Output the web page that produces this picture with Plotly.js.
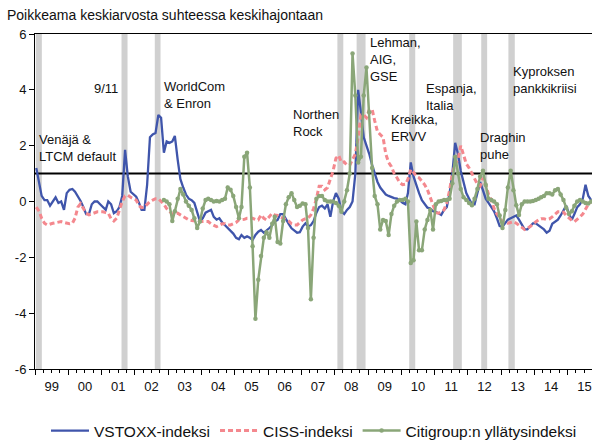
<!DOCTYPE html>
<html>
<head>
<meta charset="utf-8">
<script src="https://cdn.plot.ly/plotly-3.0.1.min.js"></script>
<style>html,body{margin:0;padding:0;background:#fff;}#chart{width:592px;height:442px;}</style>
</head>
<body>
<div id="chart"></div>
<script>
// ---- data (monthly, Jan 1999 .. Sep 2015) ----
const startYear = 1999;
const vstoxx = [
 1.2, 0.6, 0.2, 0.05, 0.05, -0.15, 0.0, 0.15, -0.05, 0.0,
 -0.3, 0.3, 0.42, 0.45, 0.35, 0.2, 0.02, -0.2, -0.45, -0.45,
 -0.1, 0.0, 0.0, -0.1, -0.2, -0.3, 0.0, -0.1, -0.42, -0.35,
 -0.2, 0.2, 1.85, 0.9, 0.35, 0.25, 0.17, -0.05, -0.3, -0.3,
 0.6, 2.3, 2.4, 2.45, 3.1, 3.0, 1.75, 2.15, 2.1, 2.15,
 2.35, 1.5, 0.8, 0.5, 0.25, 0.1, 0.05, -0.05, -0.4, -0.7,
 -0.6, -0.4, -0.35, -0.3, -0.55, -0.65, -0.6, -0.75, -0.85, -0.95,
 -1.05, -1.15, -1.3, -1.35, -1.2, -1.3, -1.25, -1.3, -1.38, -1.2,
 -1.08, -1.02, -1.12, -1.05, -0.95, -0.85, -0.72, -0.66, -0.45, -0.45,
 -0.65, -0.8, -0.96, -1.05, -1.12, -1.1, -0.9, -0.78, -0.9, -0.85,
 -0.7, -0.4, -0.2, -0.15, -0.25, -0.1, -0.55, 0.0, 0.3, 0.1,
 -0.35, -0.45, -0.3, -0.2, 0.0, 1.0, 4.0, 3.2, 2.3, 2.0,
 1.7, 1.3, 1.0, 0.7, 0.5, 0.35, 0.25, 0.2, 0.15, 0.12,
 0.1, 0.05, -0.05, -0.1, 0.3, 1.4, 0.9, 0.55, 0.3, 0.05,
 -0.1, -0.22, -0.25, -0.35, -0.37, -0.42, -0.48, -0.3, -0.2, 0.3,
 1.0, 2.1, 1.7, 1.1, 0.65, 0.3, 0.1, -0.1, -0.1, 0.3,
 0.7, 0.4, 0.1, -0.05, -0.2, -0.35, -0.6, -0.88, -0.9, -0.75,
 -0.65, -0.6, -0.55, -0.5, -0.65, -0.85, -1.0, -1.0, -0.88, -0.78,
 -0.78, -0.85, -0.92, -1.0, -1.12, -1.05, -0.8, -0.72, -0.65, -0.5,
 -0.3, -0.15, -0.45, -0.65, -0.45, -0.2, -0.1, 0.1, 0.6, 0.2, 0.05
];
const ciss = [
 -0.2, -0.35, -0.6, -0.78, -0.84, -0.8, -0.78, -0.76, -0.75, -0.72,
 -0.75, -0.78, -0.8, -0.78, -0.6, -0.2, -0.08, -0.25, -0.42, -0.48,
 -0.44, -0.4, -0.37, -0.37, -0.37, -0.4, -0.42, -0.62, -0.7, -0.6,
 -0.3, 0.0, 0.2, 0.23, 0.15, 0.1, 0.05, -0.15, -0.22, -0.2,
 -0.1, 0.0, 0.05, 0.1, 0.1, 0.0, -0.1, -0.25, -0.35, -0.45,
 -0.45, -0.42, -0.48, -0.54, -0.6, -0.66, -0.68, -0.7, -0.72, -0.72,
 -0.72, -0.72, -0.72, -0.8, -0.85, -0.9, -0.85, -0.8, -0.8, -0.84,
 -0.84, -0.8, -0.75, -0.66, -0.66, -0.64, -0.6, -0.6, -0.6, -0.64,
 -0.66, -0.48, -0.6, -0.66, -0.55, -0.42, -0.48, -0.5, -0.55, -0.6,
 -0.63, -0.7, -0.8, -0.84, -0.84, -0.75, -0.66, -0.62, -0.6, -0.48,
 -0.25, 0.1, 0.55, 0.55, 0.42, 0.5, 0.8, 1.1, 1.55, 1.65,
 1.4, 1.42, 1.3, 1.3, 1.5, 1.7, 2.3, 3.1, 3.1, 3.0,
 3.3, 3.3, 2.9, 2.5, 2.4, 2.3, 1.7, 1.4, 1.25, 1.0,
 0.85, 0.68, 0.6, 0.62, 0.8, 1.15, 1.05, 0.9, 0.85, 0.72,
 0.6, 0.42, 0.15, -0.15, -0.4, -0.42, -0.38, -0.3, -0.05, 0.4,
 1.0, 1.35, 1.5, 2.0, 1.7, 1.35, 1.2, 1.0, 0.8, 0.62,
 0.55, 0.85, 0.6, 0.25, 0.05, -0.25, -0.45, -0.6, -0.72, -0.75,
 -0.78, -0.75, -0.72, -0.78, -0.85, -0.95, -1.0, -0.96, -0.9, -0.8,
 -0.72, -0.66, -0.62, -0.62, -0.65, -0.62, -0.55, -0.45, -0.37, -0.37,
 -0.38, -0.5, -0.6, -0.68, -0.72, -0.65, -0.55, -0.45, -0.3, -0.1, 0.0
];
const citiStartIndex = 46; // Nov 2002
const citi = [
 0.05, 0.0, -0.1, -0.7,
 -0.35, 0.1, 0.45, 0.25, 0.0, -0.15, -0.3, -0.6, -0.95, -0.72,
 -0.25, 0.05, 0.1, 0.05, 0.0, 0.02, 0.0, 0.05, 0.1, 0.5,
 0.42, 0.2, -0.2, -0.6, -0.2, 1.6, 1.75, 0.5, -1.6, -4.2,
 -2.8, -1.95, -1.3, -1.1, -1.3, -0.8, -0.55, -1.45, -1.5, -0.7,
 -0.1, 0.15, 0.3, 0.05, -0.2, -0.15, -0.07, -0.1, -0.95, -3.5,
 -1.3, 0.1, 0.2, 0.2, 0.05, 0.0, 0.0, 0.0, -0.05, -0.15,
 -0.37, 0.0, 0.4, 1.0, 5.3, 3.8, 1.4, 1.6, 3.8, 4.8,
 3.2, 1.2, 0.2, -0.1, -1.0, -0.66, -0.7, -1.2, -0.45, -0.15,
 0.0, 0.05, 0.05, 0.1, 0.0, -2.2, -2.1, -0.72, -1.75, -1.75,
 -1.0, -0.66, -0.3, -1.0, -0.1, 0.0, 0.02, 0.05, 0.05, 0.1,
 0.65, 1.6, 1.0, 0.45, 0.15, 0.05, -0.05, -0.13, 0.1, 0.45,
 0.9, 1.1, 0.6, 0.1, 0.05, 0.0, -0.1, -0.5, -0.95, -0.3,
 0.5, 1.1, 0.4, -0.13, -0.48, -0.1, 0.0, 0.0, 0.0, 0.02,
 0.05, 0.1, 0.15, 0.2, 0.3, 0.3, 0.25, 0.4, 0.45, 0.25,
 0.05, -0.22, -0.45, -0.35, -0.15, 0.0, 0.05, 0.0, -0.05, -0.07, 0.0
];
const seriesNames = ["VSTOXX-indeksi", "CISS-indeksi", "Citigroup:n yllätysindeksi"];
const bandStarts = ["1999-01-10","2001-08-07","2002-08-07","2008-01-31","2008-08-29","2010-03-29","2011-07-24","2012-05-27","2013-03-21"];
const bandEnds   = ["1999-03-17","2001-10-12","2002-10-09","2008-04-05","2008-12-05","2010-06-03","2011-10-27","2012-07-31","2013-05-30"];
const eventLabels = ["Venäjä &<br>LTCM default","9/11","WorldCom<br>& Enron","Northen<br>Rock","Lehman,<br>AIG,<br>GSE","Kreikka,<br>ERVV","Espanja,<br>Italia","Draghin<br>puhe","Kyproksen<br>pankkikriisi"];
const threshold = 1;
const yTickVals = [-6,-4,-2,0,2,4,6];
const yTickText = ["-6","-4","-2","0","2","4","6"];

function monthDate(i){
  const y = startYear + Math.floor(i/12);
  const m = (i % 12) + 1;
  return y + "-" + String(m).padStart(2,"0") + "-15";
}
const datesAll = vstoxx.map((_, i) => monthDate(i));
const datesCiti = citi.map((_, i) => monthDate(i + citiStartIndex));

// ---- layout helpers (pixel -> paper) ----
const W = 592, H = 442, L = 35, R = 0, T = 34, B = 73;
const pw = W - L - R, ph = H - T - B;
const px = x => (x - L) / pw;
const py = y => (H - B - y) / ph;

const font = "Liberation Sans, Arial, sans-serif";

const traces = [
  {x: datesAll, y: vstoxx, name: seriesNames[0], type: "scatter", mode: "lines",
   line: {color: "#3f55ab", width: 2.3}},
  {x: datesAll, y: ciss, name: seriesNames[1], type: "scatter", mode: "lines",
   line: {color: "#f4888e", width: 3, dash: "5px,3px"}},
  {x: datesCiti, y: citi, name: seriesNames[2], type: "scatter", mode: "lines+markers",
   line: {color: "#8aa678", width: 2.5}, marker: {color: "#8aa678", size: 4.5}}
];

const shapes = bandStarts.map((s, i) => ({
  type: "rect", xref: "x", yref: "paper", x0: s, x1: bandEnds[i], y0: 0, y1: 1,
  fillcolor: "#d0d0d0", line: {width: 0}, layer: "below"
}));
shapes.push({type: "line", xref: "paper", yref: "y", x0: 0, x1: 1, y0: threshold, y1: threshold,
  line: {color: "#000", width: 2}, layer: "below"});

const annPos = [
  [37, 148, "left"], [120, 88, "right"], [162, 95, "left"], [291, 123, "left"],
  [368, 59, "left"], [389, 128, "left"], [424, 97, "left"], [478, 146, "left"], [511, 80, "left"]
];
const annotations = eventLabels.map((t, i) => ({
  text: t, xref: "paper", yref: "paper", x: px(annPos[i][0]), y: py(annPos[i][1]),
  xanchor: annPos[i][2], yanchor: "middle", align: "left", showarrow: false,
  font: {family: font, size: 13, color: "#111"}
}));

const layout = {
  width: W, height: H,
  margin: {l: L, r: R, t: T, b: B, autoexpand: false},
  paper_bgcolor: "#fff", plot_bgcolor: "#fff",
  title: {text: "Poikkeama keskiarvosta suhteessa keskihajontaan", x: 7/W, xanchor: "left",
          y: 1 - 15/H, yanchor: "middle", font: {family: font, size: 14, color: "#111"}},
  showlegend: true,
  legend: {orientation: "h", x: px(314), xanchor: "center", y: py(431), yanchor: "middle",
           font: {family: font, size: 15.5, color: "#111"}, itemwidth: 38, tracegroupgap: 0},
  xaxis: {type: "date", range: ["1999-01-01", "2015-09-24"], tick0: "1999-01-01", dtick: "M12",
          tickformat: "%y", ticklabelmode: "period", ticks: "outside", ticklen: 5, tickcolor: "#000",
          minor: {dtick: "M3", ticks: "outside", ticklen: 3, tickcolor: "#000", showgrid: false},
          showline: true, linecolor: "#000", linewidth: 1, mirror: true, showgrid: false, zeroline: false,
          tickfont: {family: font, size: 13, color: "#111"}},
  yaxis: {range: [-6, 6], tickvals: yTickVals, ticktext: yTickText, ticks: "outside", ticklen: 5,
          tickcolor: "#000", showline: true, linecolor: "#000", linewidth: 1, mirror: true,
          showgrid: false, zeroline: false, tickfont: {family: font, size: 13, color: "#111"}},
  shapes: shapes,
  annotations: annotations
};

Plotly.newPlot("chart", traces, layout, {displayModeBar: false, staticPlot: true});
</script>
</body>
</html>
